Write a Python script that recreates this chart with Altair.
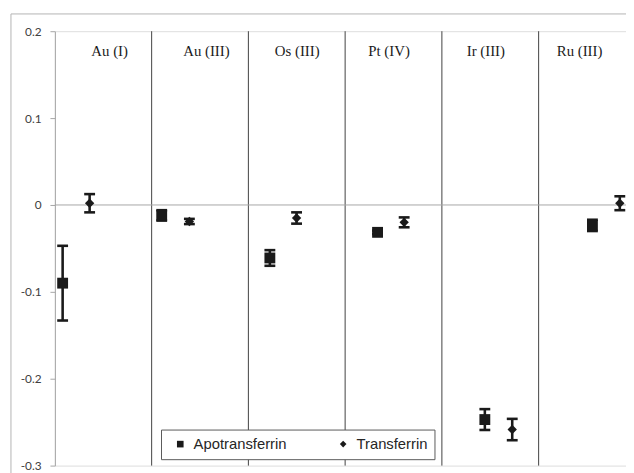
import altair as alt
import pandas as pd

# ---- data ----
categories = ["Au (I)", "Au (III)", "Os (III)", "Pt (IV)", "Ir (III)", "Ru (III)"]
series_names = ["Apotransferrin", "Transferrin"]

apo_x = [0.080, 1.104, 2.222, 3.335, 4.444, 5.556]
apo_y = [-0.090, -0.012, -0.061, -0.0315, -0.247, -0.0235]
apo_err = [0.043, 0.006, 0.009, 0.002, 0.012, 0.0065]

trans_x = [0.359, 1.390, 2.498, 3.610, 4.727, 5.839]
trans_y = [0.002, -0.019, -0.015, -0.020, -0.2585, 0.002]
trans_err = [0.0105, 0.003, 0.0065, 0.0057, 0.0123, 0.008]

label_x = [0.566, 1.566, 2.505, 3.454, 4.454, 5.423]
label_y = 0.172
y_ticks = [-0.3, -0.2, -0.1, 0, 0.1, 0.2]

# ---- tables ----
def table(xs, ys, es, name):
    return pd.DataFrame({"category": categories, "series": name, "x": xs, "y": ys,
                         "lo": [y - e for y, e in zip(ys, es)],
                         "hi": [y + e for y, e in zip(ys, es)]})

df_apo = table(apo_x, apo_y, apo_err, series_names[0])
df_tr = table(trans_x, trans_y, trans_err, series_names[1])
df = pd.concat([df_apo, df_tr], ignore_index=True)

sep_df = pd.DataFrame({"x": list(range(1, len(categories)))})
lab_df = pd.DataFrame({"x": label_x, "label": categories, "y": [label_y] * len(categories)})
zero_df = pd.DataFrame({"y": [0]})
one = pd.DataFrame({"k": [0]})

W = 578.5
H = 440
xscale = alt.Scale(domain=[0, 5.903], nice=False, zero=False)
yscale = alt.Scale(domain=[-0.3, 0.2], nice=False, zero=False)

X = lambda f: alt.X(f, type="quantitative", scale=xscale, axis=None)

yaxis = alt.Axis(values=y_ticks, grid=False, title=None,
                 domainColor="#a6a6a6", tickColor="#a6a6a6", tickSize=5,
                 labelPadding=9, labelFont="Lato", labelFontSize=12,
                 labelColor="#404040",
                 labelExpr="datum.value == 0 ? '0' : replace(format(datum.value, '.1f'), '\u2212', '-')")

ink = "#1a1a1a"

border_top = alt.Chart(one).mark_rule(color="#b3b3b3", strokeWidth=1).encode(
    x=alt.value(-44.5), x2=alt.value(W + 20), y=alt.value(-17.5))
border_left = alt.Chart(one).mark_rule(color="#b3b3b3", strokeWidth=1).encode(
    x=alt.value(-44.5), y=alt.value(-17.5), y2=alt.value(H + 20))

seps = alt.Chart(sep_df).mark_rule(color="#404040", strokeWidth=1).encode(
    x=X("x"),
    y=alt.datum(0.2, type="quantitative", scale=yscale, axis=yaxis),
    y2=alt.datum(-0.3))

zero = alt.Chart(zero_df).mark_rule(color="#a6a6a6", strokeWidth=1).encode(
    y=alt.Y("y:Q", scale=yscale, axis=yaxis), x=alt.value(0), x2=alt.value(W))

err_line = alt.Chart(df).mark_rule(color=ink, strokeWidth=2.6).encode(
    x=X("x"), y=alt.Y("lo:Q", scale=yscale), y2="hi:Q")
cap_lo = alt.Chart(df).mark_tick(color=ink, orient="horizontal", size=11, thickness=2.6, opacity=1).encode(
    x=X("x"), y=alt.Y("lo:Q", scale=yscale))
cap_hi = alt.Chart(df).mark_tick(color=ink, orient="horizontal", size=11, thickness=2.6, opacity=1).encode(
    x=X("x"), y=alt.Y("hi:Q", scale=yscale))

shape_enc = alt.Shape(
    "series:N",
    scale=alt.Scale(domain=series_names, range=["square", "diamond"]),
    legend=alt.Legend(title=None, orient="none", legendX=107.5, legendY=403.5,
                      direction="horizontal", columns=2, zindex=1,
                      fillColor="white", strokeColor="#595959", padding=7,
                      symbolSize=45, symbolFillColor=ink, symbolStrokeColor=ink,
                      symbolStrokeWidth=0, symbolOffset=5,
                      labelFont="Liberation Sans", labelFontSize=15,
                      labelColor="#262626", labelOffset=6,
                      columnPadding=44))

pts_apo = alt.Chart(df_apo).mark_point(filled=True, opacity=1, color=ink, size=121).encode(
    x=X("x"), y=alt.Y("y:Q", scale=yscale), shape=shape_enc)
pts_tr = alt.Chart(df_tr).mark_point(filled=True, opacity=1, color=ink, size=90).encode(
    x=X("x"), y=alt.Y("y:Q", scale=yscale), shape=shape_enc)

labels = alt.Chart(lab_df).mark_text(font="Liberation Serif", fontSize=15, color=ink,
                                     baseline="alphabetic", align="center").encode(
    x=X("x"), y=alt.Y("y:Q", scale=yscale), text="label:N")

chart = alt.layer(border_top, border_left, seps, zero, err_line, cap_lo, cap_hi,
                  pts_apo, pts_tr, labels).properties(
    width=W, height=H,
    padding={"left": 47.5, "top": 20.5, "right": 0, "bottom": 6},
    autosize=alt.AutoSizeParams(type="none"),
).configure_view(stroke=None).configure(background="white")

chart.save("out.html", embed_options={"renderer": "svg", "actions": False})
